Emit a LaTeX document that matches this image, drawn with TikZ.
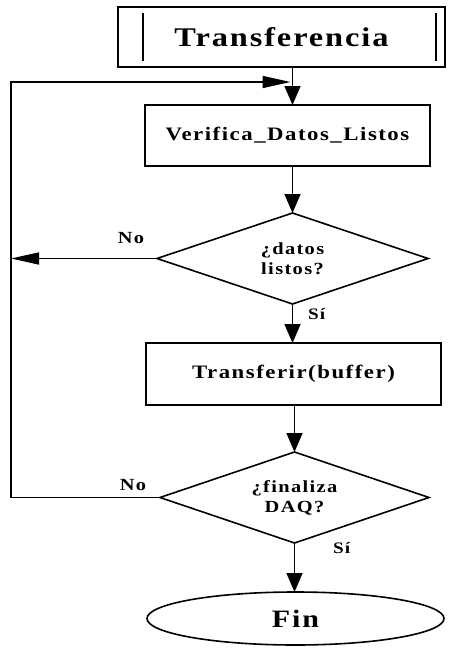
\documentclass[tikz,border=0pt]{standalone}
\usepackage{fontspec}
\setmainfont{Liberation Serif}
\newfontfamily\spaced[FakeStretch=1.2, LetterSpace=8]{Liberation Serif}
\newfontfamily\spacedtitle[FakeStretch=1.2, LetterSpace=7]{Liberation Serif}
\usetikzlibrary{shapes.geometric,arrows.meta,calc}
\begin{document}
\begin{tikzpicture}[x=1pt,y=-1pt,
  every node/.style={inner sep=0pt, outer sep=0pt, align=center},
  flowline/.style={line width=1.6pt},
  downarrow/.style={flowline, -{Triangle[length=19pt,width=16pt]}},
  sidearrow/.style={flowline, -{Triangle[length=28pt,width=12pt]}},
  procbox/.style={draw, line width=1.6pt, rectangle},
  decision/.style={draw, line width=1.6pt, diamond, aspect=3},
  labeltext/.style={font=\spaced\bfseries\fontsize{17}{20}\selectfont},
  boxtext/.style={font=\spaced\bfseries\fontsize{19}{20}\selectfont},
  smalltext/.style={font=\spaced\bfseries\fontsize{16}{18}\selectfont}
]
\useasboundingbox (0,0) rectangle (455,648);

% header block
\node[procbox, minimum width=327pt, minimum height=60pt,
      font=\spacedtitle\bfseries\fontsize{27}{30}\selectfont] (top) at (281.5,37) {Transferencia};
\draw[flowline] (143,13) -- (143,61);
\draw[flowline] (436,13) -- (436,61);

% process steps and decisions
\node[procbox, boxtext, minimum width=285pt, minimum height=61pt] (v) at (287.5,135.5) {Verifica\_Datos\_Listos};
\node[decision, labeltext, minimum width=271pt, minimum height=91pt] (d1) at (292.5,258.5) {¿datos\\listos?};
\node[procbox, boxtext, minimum width=295pt, minimum height=62pt] (t) at (293.5,374) {Transferir(buffer)};
\node[decision, labeltext, minimum width=269pt, minimum height=91pt] (d2) at (294.5,497.5) {¿finaliza\\DAQ?};
\node[draw, ellipse, line width=1.6pt, minimum width=297pt, minimum height=53pt,
      font=\spaced\bfseries\fontsize{25}{28}\selectfont] (fin) at (295.5,618.5) {Fin};

% return path corner
\coordinate (lt) at (11,82);

% main flow
\draw[downarrow] (top.south -| d1.north) -- (v.north -| d1.north);
\draw[downarrow] (v.south -| d1.north) -- (d1.north);
\draw[downarrow] (d1.south) -- (t.north -| d1.south);
\draw[downarrow] (t.south -| d2.north) -- (d2.north);
\draw[downarrow] (d2.south) -- (fin.north -| d2.south);

% "No" branches
\draw[sidearrow] (d1.west) -- (d1.west -| lt);
\draw[sidearrow] (d2.west) -- (d2.west -| lt) -- (lt) -- ($(lt -| d1.north)+(-2,0)$);

% branch labels
\node[labeltext, anchor=base] (no1) at (131,243) {No};
\node[labeltext, anchor=base] (no2) at (133,490) {No};
\node[smalltext, anchor=base west] (si1) at (308,319.5) {Sí};
\node[smalltext, anchor=base west] (si2) at (333,553) {Sí};
\end{tikzpicture}
\end{document}
